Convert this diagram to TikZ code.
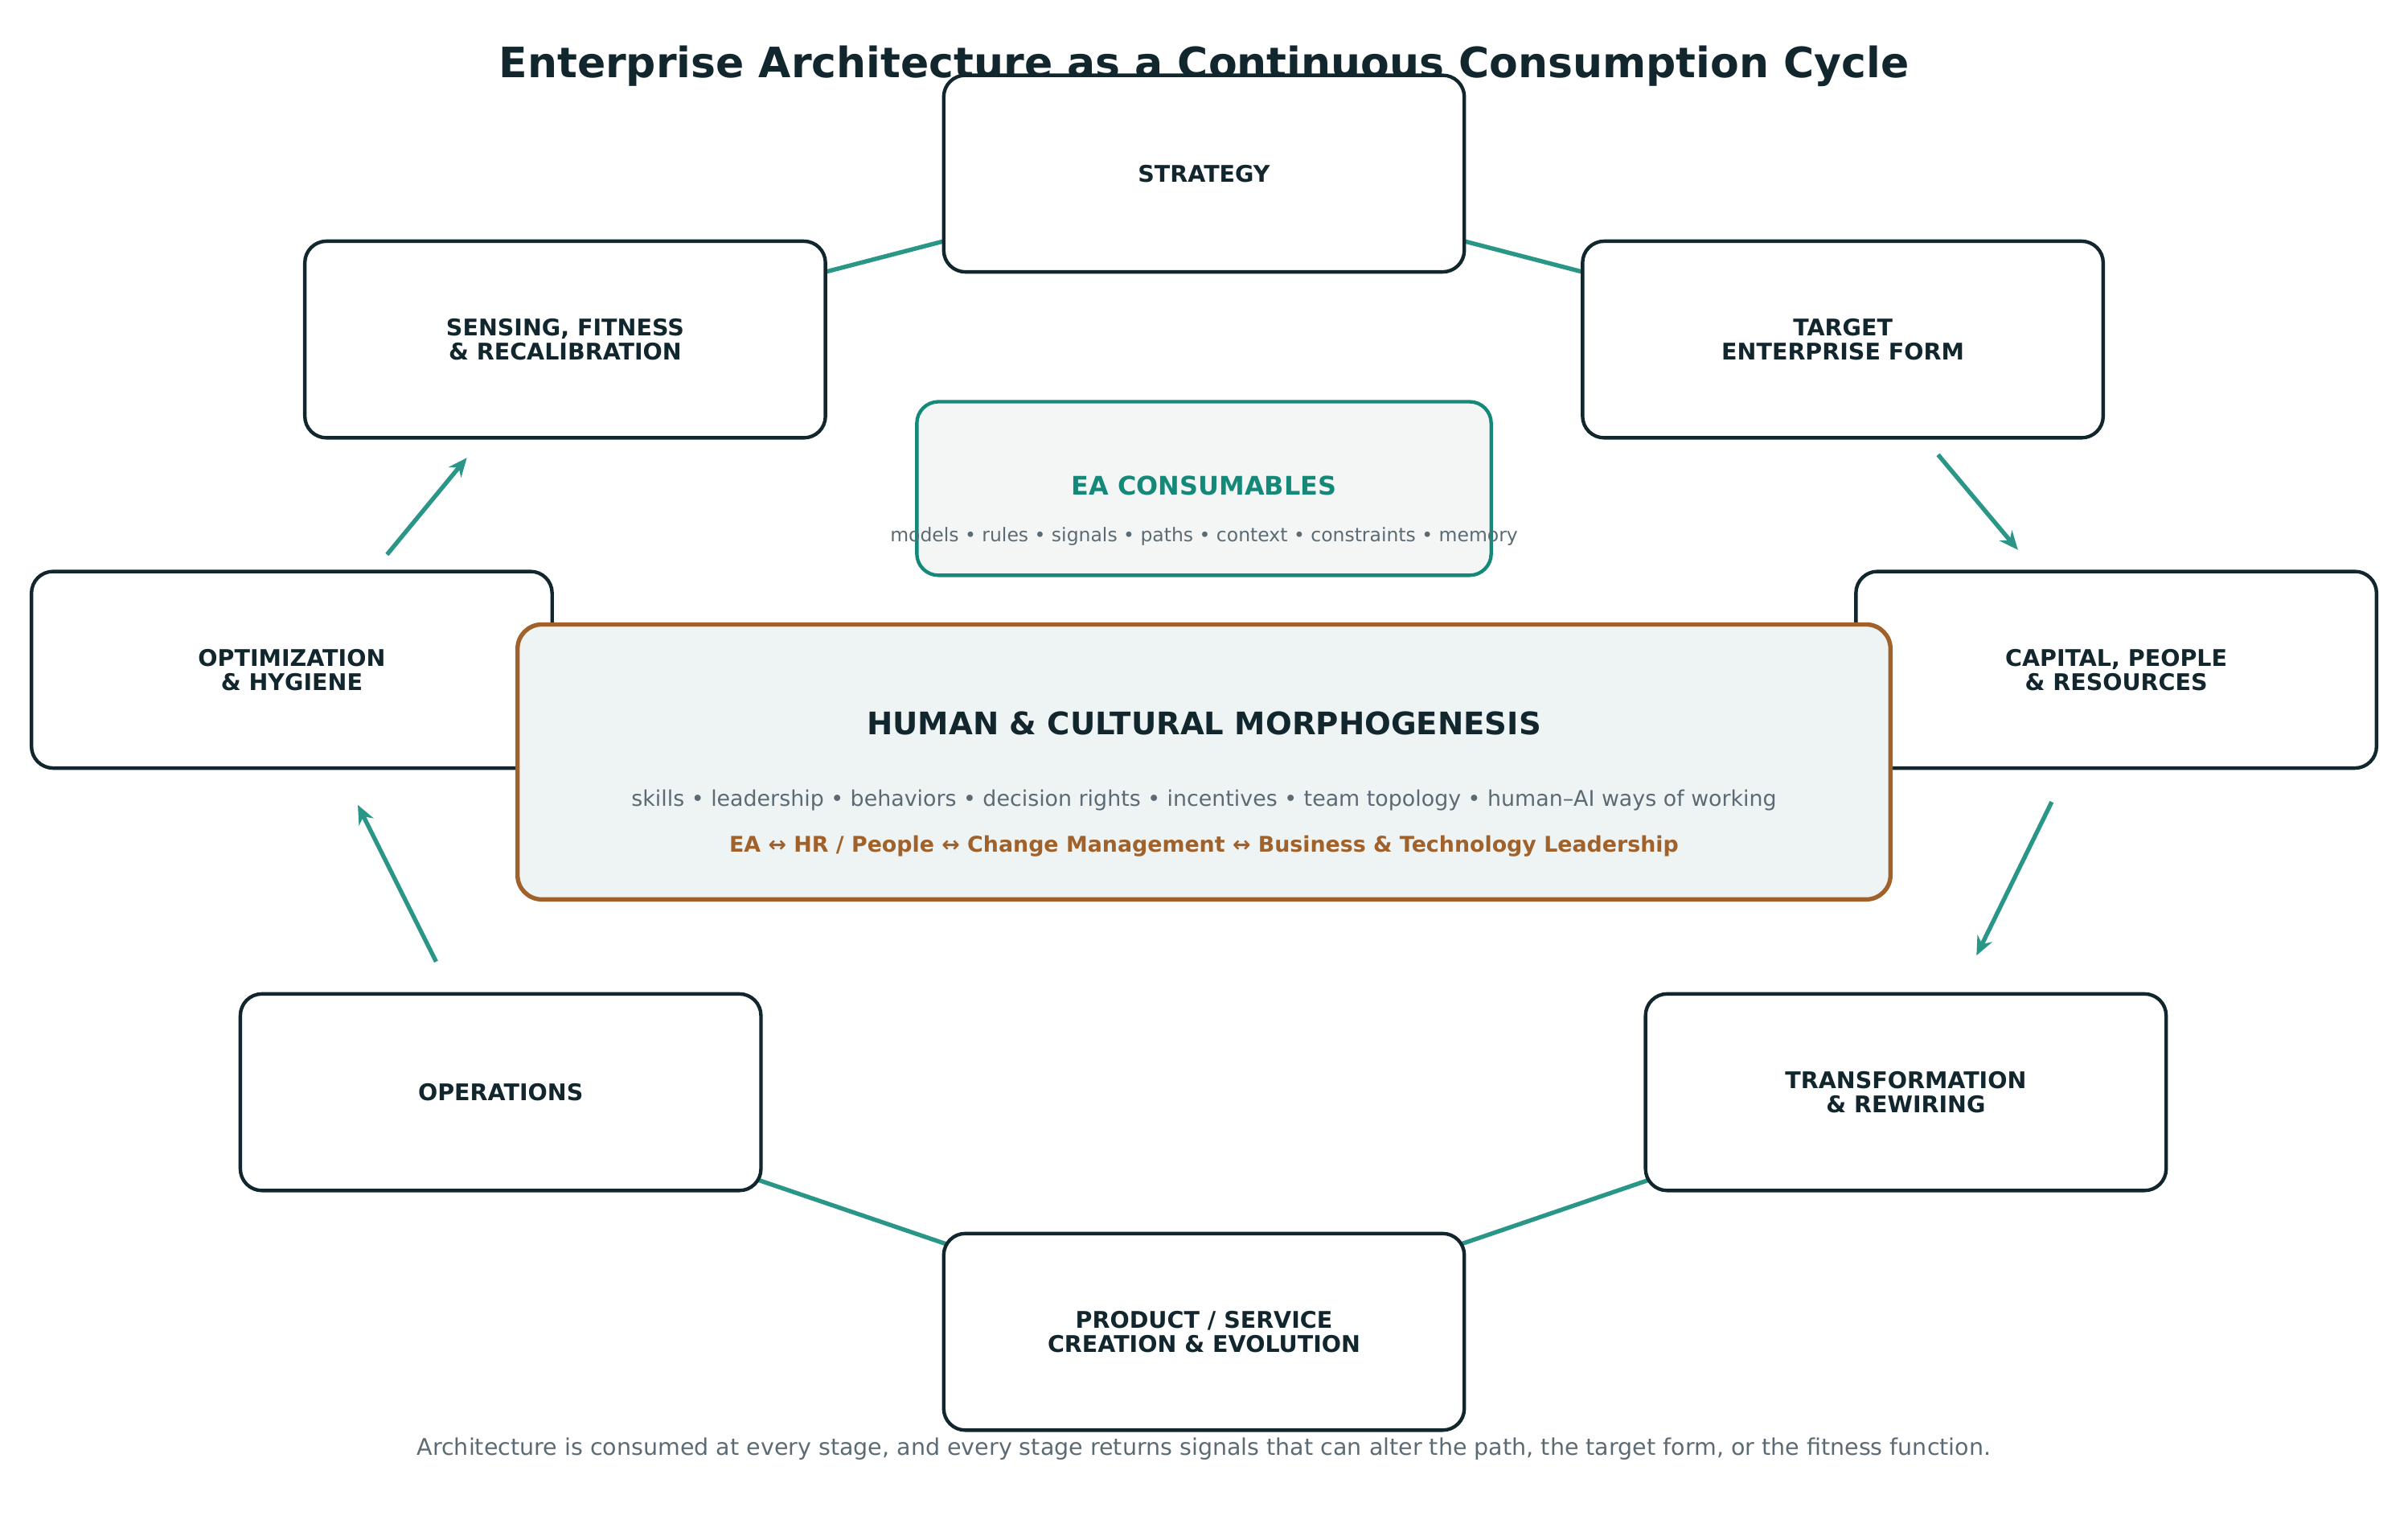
\documentclass[tikz,border=0pt]{standalone}
\usepackage{fontspec}
\setmainfont{DejaVu Sans}
\usetikzlibrary{arrows.meta}
\definecolor{inkdark}{HTML}{12262E}
\definecolor{cycleteal}{HTML}{2A9688}
\definecolor{noteteal}{HTML}{14897A}
\definecolor{notegray}{HTML}{5C6B73}
\definecolor{morphbrown}{HTML}{A0612B}
\definecolor{morphfill}{HTML}{EEF3F3}
\definecolor{eafill}{HTML}{F4F6F6}

\begin{document}
\begin{tikzpicture}[x=0.02cm, y=-0.02cm,
    stage/.style={draw=inkdark, line width=1.3pt, fill=white, rounded corners=8pt,
        minimum width=339*0.02cm, minimum height=128*0.02cm, align=center,
        text=inkdark, font=\fontsize{8.5}{9}\selectfont\bfseries},
    link/.style={cycleteal, line width=1.6pt},
    flow/.style={cycleteal, line width=1.6pt, -{Stealth[length=7pt,width=6pt]}}]
    \useasboundingbox (0,0) rectangle (1568,992);

    \node[font=\fontsize{15.5}{17}\selectfont\bfseries, text=inkdark] (title) at (784,43) {Enterprise Architecture as a Continuous Consumption Cycle};

    % links behind the stages
    \coordinate (cStrategy) at (784,113);
    \coordinate (cSensing) at (368,221);
    \coordinate (cTarget) at (1200,221);
    \coordinate (cOps) at (326,711);
    \coordinate (cTrans) at (1241,711);
    \coordinate (cProduct) at (784,867);
    \draw[link] (cSensing) -- (cStrategy) -- (cTarget);
    \draw[link] (cOps) -- (cProduct) -- (cTrans);

    % stages
    \node[stage] (strategy) at (cStrategy) {STRATEGY};
    \node[stage] (sensing) at (cSensing) {SENSING, FITNESS\\\& RECALIBRATION};
    \node[stage] (target) at (cTarget) {TARGET\\ENTERPRISE FORM};
    \node[stage] (optim) at (190,436) {OPTIMIZATION\\\& HYGIENE};
    \node[stage] (capital) at (1378,436) {CAPITAL, PEOPLE\\\& RESOURCES};
    \node[stage] (ops) at (cOps) {OPERATIONS};
    \node[stage] (trans) at (cTrans) {TRANSFORMATION\\\& REWIRING};
    \node[stage] (product) at (cProduct) {PRODUCT / SERVICE\\CREATION \& EVOLUTION};

    % consumables
    \node[draw=noteteal, line width=1.3pt, fill=eafill, rounded corners=8pt,
        minimum width=374*0.02cm, minimum height=113*0.02cm] (consum) at (784,318) {};
    \node[font=\fontsize{9.5}{10}\selectfont\bfseries, text=noteteal] (consumT) at (784,316) {EA CONSUMABLES};
    \node[font=\fontsize{7}{8}\selectfont, text=notegray] (consumS) at (784,349) {models • rules • signals • paths • context • constraints • memory};

    % morphogenesis core
    \node[draw=morphbrown, line width=1.6pt, fill=morphfill, rounded corners=9pt,
        minimum width=894*0.02cm, minimum height=179*0.02cm] (core) at (784,496) {};
    \node[font=\fontsize{11.5}{12}\selectfont\bfseries, text=inkdark] (coreT) at (784,471) {HUMAN \& CULTURAL MORPHOGENESIS};
    \node[font=\fontsize{8}{9}\selectfont, text=notegray] (coreS) at (784,521) {skills • leadership • behaviors • decision rights • incentives • team topology • human–AI ways of working};
    \node[font=\fontsize{8}{9}\selectfont\bfseries, text=morphbrown] (coreL) at (784,551) {EA ↔ HR / People ↔ Change Management ↔ Business \& Technology Leadership};

    % flow arrows
    \coordinate (a1) at (1262,296); \coordinate (b1) at (1314,358);
    \coordinate (a2) at (1336,522); \coordinate (b2) at (1287,622);
    \coordinate (a3) at (284,626);  \coordinate (b3) at (233,524);
    \coordinate (a4) at (252,361);  \coordinate (b4) at (304,298);
    \draw[flow] (a1) -- (b1);
    \draw[flow] (a2) -- (b2);
    \draw[flow] (a3) -- (b3);
    \draw[flow] (a4) -- (b4);

    \node[font=\fontsize{8.5}{9}\selectfont, text=notegray] (footer) at (784,943) {Architecture is consumed at every stage, and every stage returns signals that can alter the path, the target form, or the fitness function.};
\end{tikzpicture}
\end{document}
